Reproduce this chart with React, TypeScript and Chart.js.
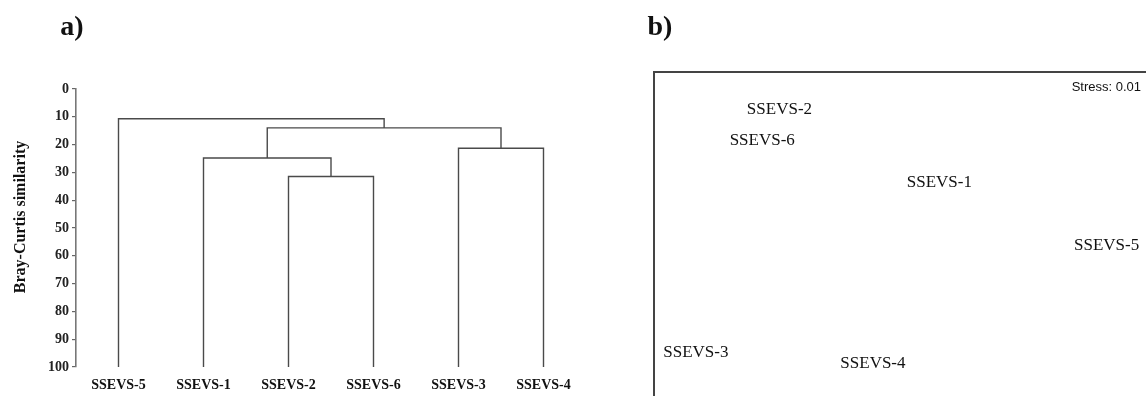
import React, { useEffect, useRef } from "react";
import { Chart, registerables } from "chart.js";

Chart.register(...registerables);

// ---------- Data ----------
// Panel a) dendrogram (Bray-Curtis similarity)
const leafLabels = ["SSEVS-5", "SSEVS-1", "SSEVS-2", "SSEVS-6", "SSEVS-3", "SSEVS-4"];
const leafLevel = 100;
// merges: node ids 0-5 are leaves, merge k creates node 6+k
const mergeLeft = [2, 4, 1, 8, 0];
const mergeRight = [3, 5, 6, 7, 9];
const mergeLevel = [31.5, 21.3, 24.8, 14.0, 10.7];
const yTickValues = [0, 10, 20, 30, 40, 50, 60, 70, 80, 90, 100];
const yTitle = "Bray-Curtis similarity";

// Panel b) NMDS ordination
const nmdsLabels = ["SSEVS-1", "SSEVS-2", "SSEVS-3", "SSEVS-4", "SSEVS-5", "SSEVS-6"];
const nmdsX = [0.16, -0.49, -0.83, -0.11, 0.84, -0.56];
const nmdsY = [0.32, 0.77, -0.73, -0.8, -0.07, 0.58];
const stressText = "Stress: 0.01";

const SERIF = "'Liberation Serif', 'Times New Roman', serif";
const SANS = "'Liberation Sans', Arial, sans-serif";

function buildDendrogram() {
  const nodeX: number[] = leafLabels.map((_, i) => i + 1);
  const nodeY: number[] = leafLabels.map(() => leafLevel);
  const datasets: any[] = [];
  mergeLeft.forEach((l, k) => {
    const r = mergeRight[k];
    const h = mergeLevel[k];
    datasets.push({
      data: [
        { x: nodeX[l], y: nodeY[l] },
        { x: nodeX[l], y: h },
        { x: nodeX[r], y: h },
        { x: nodeX[r], y: nodeY[r] },
      ],
      showLine: true,
      borderColor: "#4a4a4a",
      borderWidth: 1.4,
      pointRadius: 0,
      fill: false,
      clip: false,
    });
    nodeX.push((nodeX[l] + nodeX[r]) / 2);
    nodeY.push(h);
  });
  return datasets;
}

const textPlugin = (items: { text: string; x: number; y: number; font: string; rotate?: boolean; align?: CanvasTextAlign }[]) => ({
  id: "staticText",
  afterDraw(chart: any) {
    const ctx = chart.ctx;
    ctx.save();
    ctx.fillStyle = "#111";
    ctx.textBaseline = "middle";
    items.forEach((it) => {
      ctx.save();
      ctx.font = it.font;
      ctx.textAlign = it.align || "center";
      ctx.translate(it.x, it.y);
      if (it.rotate) ctx.rotate(-Math.PI / 2);
      ctx.fillText(it.text, 0, 0);
      ctx.restore();
    });
    ctx.restore();
  },
});

const pointLabelPlugin = {
  id: "pointLabels",
  afterDatasetsDraw(chart: any) {
    const ctx = chart.ctx;
    const meta = chart.getDatasetMeta(0);
    ctx.save();
    ctx.font = `17px ${SERIF}`;
    ctx.fillStyle = "#111";
    ctx.textAlign = "center";
    ctx.textBaseline = "middle";
    meta.data.forEach((el: any, i: number) => {
      ctx.fillText(nmdsLabels[i], el.x, el.y);
    });
    ctx.restore();
  },
};

export default function App() {
  const refA = useRef<HTMLCanvasElement>(null);
  const refB = useRef<HTMLCanvasElement>(null);

  useEffect(() => {
    const chartA = new Chart(refA.current!, {
      type: "scatter",
      data: { datasets: buildDendrogram() },
      options: {
        animation: false,
        responsive: false,
        maintainAspectRatio: false,
        layout: { padding: { top: 89, left: 0, right: 34, bottom: 0 } },
        plugins: { legend: { display: false }, tooltip: { enabled: false } },
        scales: {
          x: {
            type: "linear",
            min: 0.5,
            max: 6.5,
            afterBuildTicks: (scale: any) => {
              scale.ticks = leafLabels.map((_, i) => ({ value: i + 1 }));
            },
            afterFit: (scale: any) => {
              scale.height = 29;
            },
            grid: { display: false, drawTicks: false },
            border: { display: false },
            ticks: {
              autoSkip: false,
              maxRotation: 0,
              padding: 10,
              color: "#111",
              font: { family: SERIF, size: 14, weight: "bold" },
              callback: (v: any) => leafLabels[Number(v) - 1] ?? "",
            },
          },
          y: {
            type: "linear",
            reverse: true,
            min: 0,
            max: 100,
            afterBuildTicks: (scale: any) => {
              scale.ticks = yTickValues.map((v) => ({ value: v }));
            },
            afterFit: (scale: any) => {
              scale.width = 76;
            },
            grid: { display: true, drawOnChartArea: false, drawTicks: true, tickLength: 4, color: "#666", lineWidth: 1.2 },
            border: { display: true, color: "#777", width: 1.6 },
            ticks: {
              padding: 3,
              color: "#222",
              font: { family: SERIF, size: 14, weight: "bold" },
            },
          },
        },
      },
      plugins: [
        textPlugin([
          { text: "a)", x: 72, y: 28, font: `bold 28px ${SERIF}` },
          { text: yTitle, x: 21, y: 217, font: `bold 16px ${SERIF}`, rotate: true },
        ]),
      ],
    } as any);

    const chartB = new Chart(refB.current!, {
      type: "scatter",
      data: {
        labels: nmdsLabels,
        datasets: [
          {
            data: nmdsX.map((x, i) => ({ x, y: nmdsY[i] })),
            pointRadius: 0,
            backgroundColor: "transparent",
            borderColor: "transparent",
          },
        ],
      },
      options: {
        animation: false,
        responsive: false,
        maintainAspectRatio: false,
        layout: { padding: { top: 72, left: 34, right: 0, bottom: 0 } },
        plugins: { legend: { display: false }, tooltip: { enabled: false } },
        scales: {
          x: {
            type: "linear",
            position: "top",
            min: -1,
            max: 1,
            afterFit: (scale: any) => {
              scale.height = 0;
            },
            grid: { display: false, drawTicks: false },
            border: { display: true, color: "#444", width: 2 },
            ticks: { display: false },
          },
          y: {
            type: "linear",
            position: "left",
            min: -1,
            max: 1,
            afterFit: (scale: any) => {
              scale.width = 0;
            },
            grid: { display: false, drawTicks: false },
            border: { display: true, color: "#444", width: 2 },
            ticks: { display: false },
          },
        },
      },
      plugins: [
        pointLabelPlugin,
        textPlugin([
          { text: "b)", x: 40, y: 28, font: `bold 28px ${SERIF}` },
          { text: stressText, x: 521, y: 87, font: `13px ${SANS}`, align: "right" },
        ]),
      ],
    } as any);

    return () => {
      chartA.destroy();
      chartB.destroy();
    };
  }, []);

  return (
    <div style={{ position: "fixed", left: 0, top: 0, width: 1146, height: 396, overflow: "hidden", background: "#fff" }}>
      <canvas ref={refA} width={620} height={396} style={{ position: "absolute", left: 0, top: 0, width: 620, height: 396 }} />
      <canvas ref={refB} width={526} height={396} style={{ position: "absolute", left: 620, top: 0, width: 526, height: 396 }} />
    </div>
  );
}
